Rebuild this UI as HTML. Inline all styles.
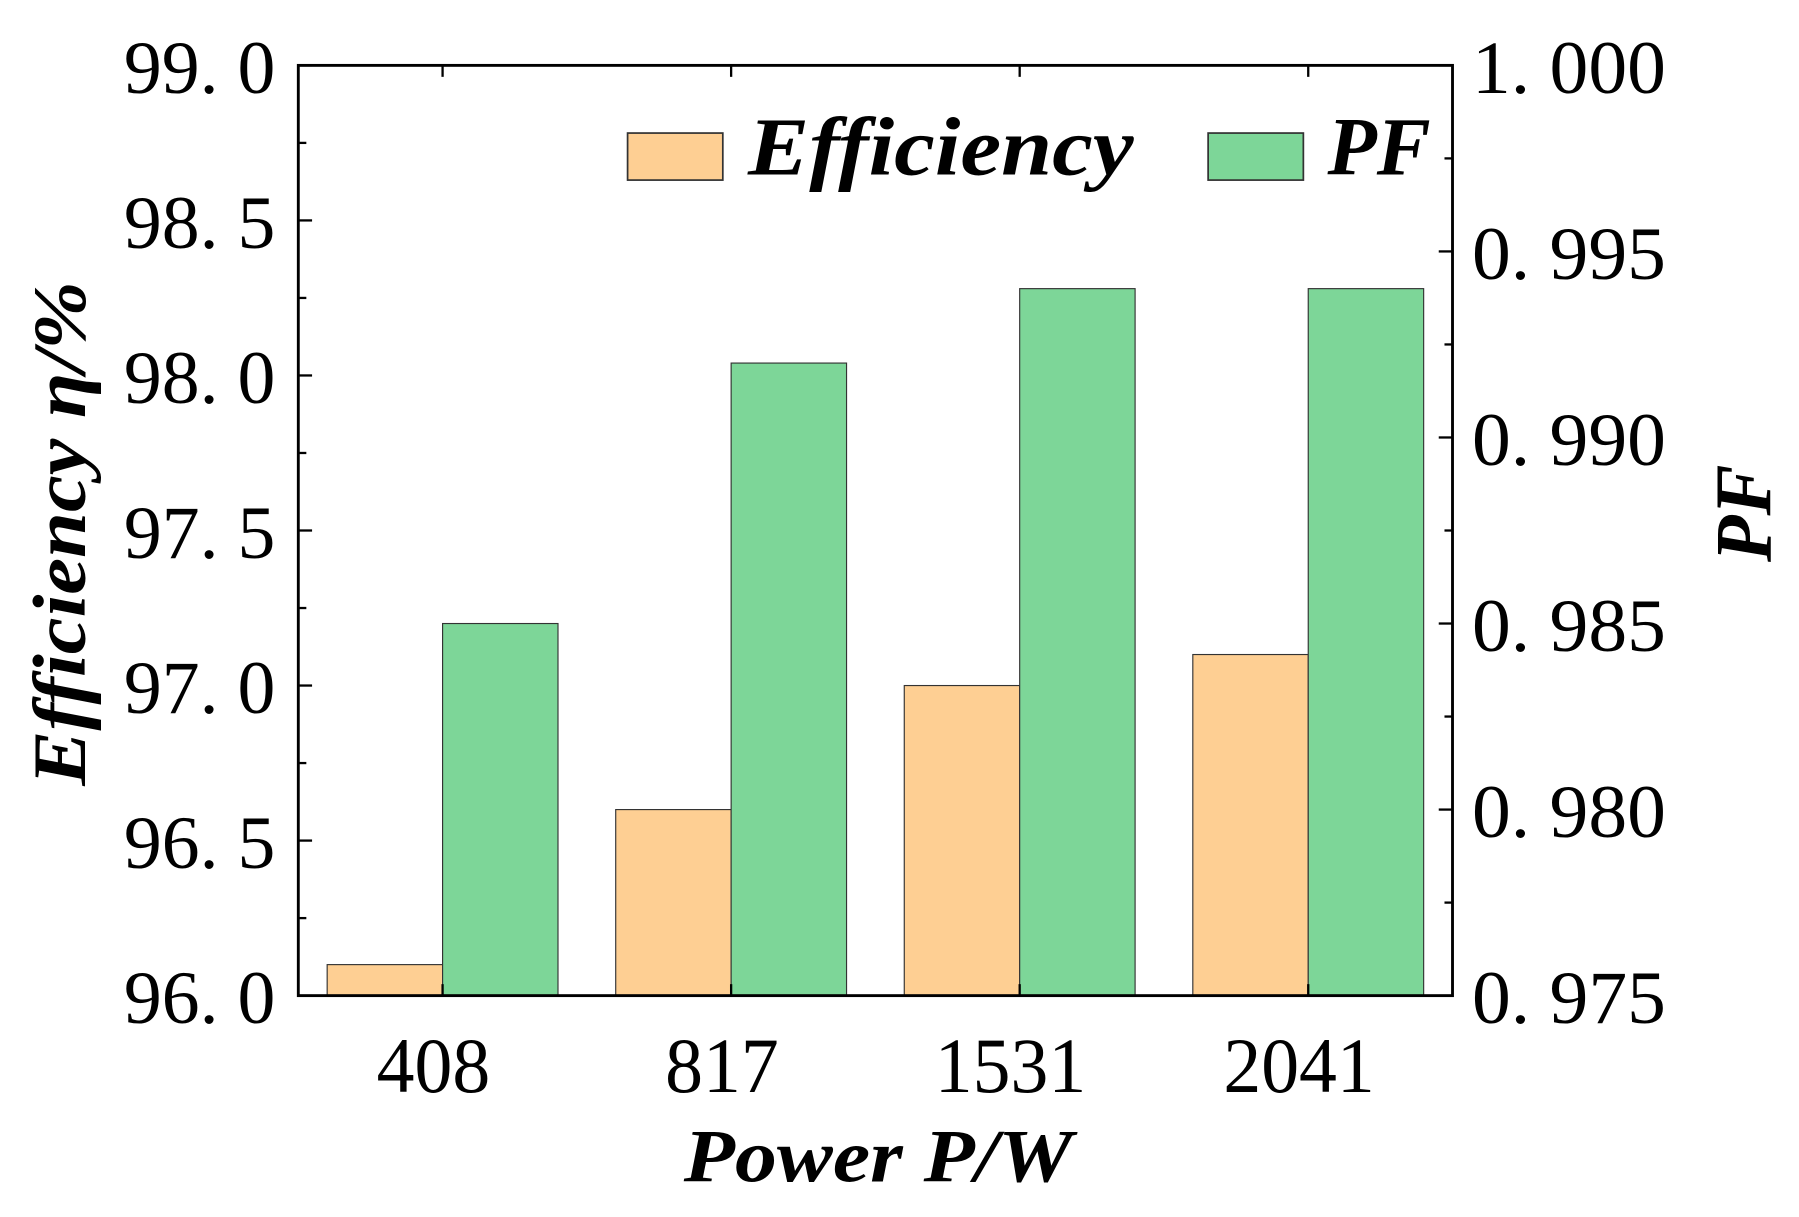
<!DOCTYPE html>
<html><head><meta charset="utf-8"><style>html,body{margin:0;padding:0;background:#fff}svg{display:block}</style></head>
<body>
<svg id="chart" width="1799" height="1217" viewBox="0 0 1568 1061" preserveAspectRatio="none" xmlns="http://www.w3.org/2000/svg" font-family="'Liberation Serif', serif"></svg>
<script>
const categories = ["408", "817", "1531", "2041"];
const efficiency = [96.1, 96.6, 97.0, 97.1];
const pf = [0.985, 0.992, 0.994, 0.994];
const leftTicks = ["96. 0", "96. 5", "97. 0", "97. 5", "98. 0", "98. 5", "99. 0"];
const leftTickValues = [96.0, 96.5, 97.0, 97.5, 98.0, 98.5, 99.0];
const rightTicks = ["0. 975", "0. 980", "0. 985", "0. 990", "0. 995", "1. 000"];
const rightTickValues = [0.975, 0.980, 0.985, 0.990, 0.995, 1.000];

const svg = document.getElementById('chart');
const NS = 'http://www.w3.org/2000/svg';
const L = 260, R = 1266, T = 57, B = 868;
const yL = v => B - (v - 96) / 3 * (B - T);
const yR = v => B - (v - 0.975) / 0.025 * (B - T);
const band = (R - L) / categories.length;
const xC = i => L + band * (i + 0.5);
const bw = band * 0.4;
function mk(tag, attrs, text) {
  const e = document.createElementNS(NS, tag);
  for (const k in attrs) e.setAttribute(k, attrs[k]);
  if (text !== undefined) e.textContent = text;
  svg.appendChild(e);
  return e;
}
categories.forEach((c, i) => {
  const e = mk('rect', {x: xC(i) - bw, y: yL(efficiency[i]), width: bw, height: B - yL(efficiency[i]), fill: '#fecf93', stroke: '#333', 'stroke-width': 1});
  
  
  const g = mk('rect', {x: xC(i), y: yR(pf[i]), width: bw, height: B - yR(pf[i]), fill: '#7dd698', stroke: '#333', 'stroke-width': 1});
  
  
  const t = mk('text', {x: xC(i) - 8, y: 952, 'font-size': 68, 'text-anchor': 'middle', textLength: c.length * 33, lengthAdjust: 'spacingAndGlyphs'}, c);
  
  
  mk('line', {x1: xC(i), x2: xC(i), y1: T, y2: T + 10, stroke: '#000', 'stroke-width': 2});
  mk('line', {x1: xC(i), x2: xC(i), y1: B, y2: B - 10, stroke: '#000', 'stroke-width': 2});
});
leftTickValues.forEach((v, i) => {
  mk('line', {x1: L, x2: L + 12, y1: yL(v), y2: yL(v), stroke: '#000', 'stroke-width': 2});
  if (i < leftTickValues.length - 1) { const m = yL(v + 0.25); mk('line', {x1: L, x2: L + 7, y1: m, y2: m, stroke: '#000', 'stroke-width': 2}); }
  const t = mk('text', {x: 108, y: yL(v) + 24, 'font-size': 66, 'text-anchor': 'start', textLength: 132, lengthAdjust: 'spacingAndGlyphs'}, leftTicks[i]);
  
  
});
rightTickValues.forEach((v, i) => {
  mk('line', {x1: R, x2: R - 12, y1: yR(v), y2: yR(v), stroke: '#000', 'stroke-width': 2});
  if (i < rightTickValues.length - 1) { const m = yR(v + 0.0025); mk('line', {x1: R, x2: R - 7, y1: m, y2: m, stroke: '#000', 'stroke-width': 2}); }
  const t = mk('text', {x: 1283, y: yR(v) + 24, 'font-size': 66, 'text-anchor': 'start', textLength: 169, lengthAdjust: 'spacingAndGlyphs'}, rightTicks[i]);
  
  
});
const frame = mk('rect', {x: L, y: T, width: R - L, height: B - T, fill: 'none', stroke: '#000', 'stroke-width': 2.5});


const lr1 = mk('rect', {x: 547, y: 116, width: 83, height: 41, fill: '#fecf93', stroke: '#333', 'stroke-width': 1.5});


const lt1 = mk('text', {x: 652, y: 152, 'font-size': 72, 'font-weight': 'bold', 'font-style': 'italic', textLength: 336, lengthAdjust: 'spacingAndGlyphs'}, 'Efficiency');


const lr2 = mk('rect', {x: 1053, y: 116, width: 83, height: 41, fill: '#7dd698', stroke: '#333', 'stroke-width': 1.5});


const lt2 = mk('text', {x: 1157, y: 152, 'font-size': 72, 'font-weight': 'bold', 'font-style': 'italic', textLength: 90, lengthAdjust: 'spacingAndGlyphs'}, 'PF');


const xt = mk('text', {x: 596, y: 1030, 'font-size': 66, 'font-weight': 'bold', 'font-style': 'italic', textLength: 339, lengthAdjust: 'spacingAndGlyphs'}, 'Power  P/W');


const yt = mk('text', {x: 0, y: 0, 'font-size': 66, 'font-weight': 'bold', 'font-style': 'italic', 'text-anchor': 'start', textLength: 440, lengthAdjust: 'spacingAndGlyphs', transform: 'translate(74,685) rotate(-90)'}, 'Efficiency  η/%');


const rt = mk('text', {x: 0, y: 0, 'font-size': 70, 'font-weight': 'bold', 'font-style': 'italic', 'text-anchor': 'start', textLength: 85, lengthAdjust: 'spacingAndGlyphs', transform: 'translate(1543,490) rotate(-90)'}, 'PF');


</script>
</body></html>
